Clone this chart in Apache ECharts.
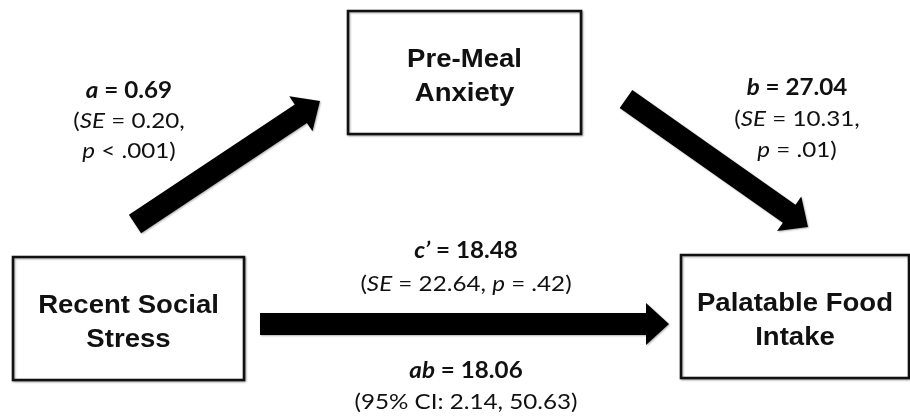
<!DOCTYPE html>
<html><head><meta charset="utf-8">
<script src="https://cdn.jsdelivr.net/npm/echarts@6/dist/echarts.min.js"></script>
<style>html,body{margin:0;padding:0;background:#fff}#c{width:910px;height:416px}</style>
</head><body><div id="c"></div>
<script>
// ---- data ----
const variables = ['Pre-Meal\nAnxiety', 'Recent Social\nStress', 'Palatable Food\nIntake'];
const pathNames = ['a', 'b', 'c’'];
const pathFrom = [1, 0, 1];
const pathTo = [0, 2, 2];
const estimates = ['0.69', '27.04', '18.48'];
const stdErrors = ['0.20', '10.31', '22.64'];
const pValues = ['< .001', '= .01', '= .42'];
const indirectName = 'ab';
const indirectEstimate = '18.06';
const indirectCI = ['2.14', '50.63'];

// ---- layout (diagram coordinates, separate from data) ----
const boxLayout = [[348, 11, 581, 134], [13, 257, 244, 380], [681, 255, 909, 378]];
const arrowLayout = [[135, 224, 320, 101], [626, 99, 808, 227], [260, 324, 669, 324]];
const labelLayout = [[129, 91, 30], [797, 88, 31], [466, 251, 33]];
const indirectLayout = [466, 371, 31];

const FONT = 'Lato';
function makeRich(lh) {
  const base = {fontSize: 22, fontFamily: FONT, lineHeight: lh, fill: '#111'};
  return {
    bi: Object.assign({}, base, {fontWeight: 'bold', fontStyle: 'italic'}),
    b: Object.assign({}, base, {fontWeight: 'bold'}),
    i: Object.assign({}, base, {fontStyle: 'italic'}),
    n: Object.assign({}, base)
  };
}

function pathLabel(i) {
  if (i < 2) {
    return '{bi|' + pathNames[i] + '}{b| = ' + estimates[i] + '}\n{n|(}{i|SE}{n| = ' + stdErrors[i] + ',}\n{i|p}{n| ' + pValues[i] + ')}';
  }
  return '{bi|' + pathNames[i] + '}{b| = ' + estimates[i] + '}\n{n|(}{i|SE}{n| = ' + stdErrors[i] + ', }{i|p}{n| ' + pValues[i] + ')}';
}
function indirectLabel() {
  return '{bi|' + indirectName + '}{b| = ' + indirectEstimate + '}\n{n|(95% CI: ' + indirectCI[0] + ', ' + indirectCI[1] + ')}';
}

const boxData = variables.map((v, i) => [boxLayout[i][0], boxLayout[i][1], boxLayout[i][2], boxLayout[i][3], i]);
const arrowData = pathNames.map((p, i) => [arrowLayout[i][0], arrowLayout[i][1], arrowLayout[i][2], arrowLayout[i][3], i]);
const labelData = pathNames.map((p, i) => [labelLayout[i][0], labelLayout[i][1], i, labelLayout[i][2]])
  .concat([[indirectLayout[0], indirectLayout[1], 3, indirectLayout[2]]]);

const chart = echarts.init(document.getElementById('c'));
chart.setOption({
  animation: false,
  backgroundColor: '#fff',
  grid: {left: 0, right: 0, top: 0, bottom: 0},
  xAxis: {type: 'value', min: 0, max: 910, show: false},
  yAxis: {type: 'value', min: 0, max: 416, inverse: true, show: false},
  series: [
    {
      type: 'custom', coordinateSystem: 'cartesian2d', data: boxData,
      renderItem: function (params, api) {
        const p0 = api.coord([api.value(0), api.value(1)]);
        const p1 = api.coord([api.value(2), api.value(3)]);
        const idx = api.value(4);
        return {
          type: 'group',
          children: [
            {type: 'rect', shape: {x: p0[0], y: p0[1], width: p1[0] - p0[0], height: p1[1] - p0[1]},
             style: {fill: '#fff', stroke: '#111', lineWidth: 2.6, shadowBlur: 2, shadowColor: 'rgba(0,0,0,0.35)', shadowOffsetX: 1, shadowOffsetY: 1}},
            {type: 'text', x: (p0[0] + p1[0]) / 2, y: (p0[1] + p1[1]) / 2 + 4, scaleX: 1.06,
             style: {text: variables[idx], fontFamily: 'Liberation Sans', fontWeight: 'bold', fontSize: 26, lineHeight: 34,
                     fill: '#111', align: 'center', verticalAlign: 'middle'}}
          ]
        };
      }
    },
    {
      type: 'custom', coordinateSystem: 'cartesian2d', data: arrowData,
      renderItem: function (params, api) {
        const t = api.coord([api.value(0), api.value(1)]);
        const h = api.coord([api.value(2), api.value(3)]);
        const dx = h[0] - t[0], dy = h[1] - t[1];
        const L = Math.sqrt(dx * dx + dy * dy);
        const ux = dx / L, uy = dy / L, nx = -uy, ny = ux;
        const sw = 11, hw = 21, hl = 23;
        const bx = h[0] - ux * hl, by = h[1] - uy * hl;
        const pts = [
          [t[0] + nx * sw, t[1] + ny * sw],
          [bx + nx * sw, by + ny * sw],
          [bx + nx * hw, by + ny * hw],
          [h[0], h[1]],
          [bx - nx * hw, by - ny * hw],
          [bx - nx * sw, by - ny * sw],
          [t[0] - nx * sw, t[1] - ny * sw]
        ];
        return {type: 'polygon', shape: {points: pts},
                style: {fill: '#000', shadowBlur: 2, shadowColor: 'rgba(0,0,0,0.3)', shadowOffsetX: 1, shadowOffsetY: 1}};
      }
    },
    {
      type: 'custom', coordinateSystem: 'cartesian2d', data: labelData,
      renderItem: function (params, api) {
        const c = api.coord([api.value(0), api.value(1)]);
        const idx = api.value(2);
        const lh = api.value(3);
        const txt = idx < 3 ? pathLabel(idx) : indirectLabel();
        return {type: 'text', x: c[0], y: c[1] - lh / 2, scaleX: 1.1,
                style: {text: txt, rich: makeRich(lh), fontFamily: FONT, fontSize: 22, lineHeight: lh,
                        align: 'center', verticalAlign: 'top', fill: '#111'}};
      }
    }
  ]
});
</script></body></html>
